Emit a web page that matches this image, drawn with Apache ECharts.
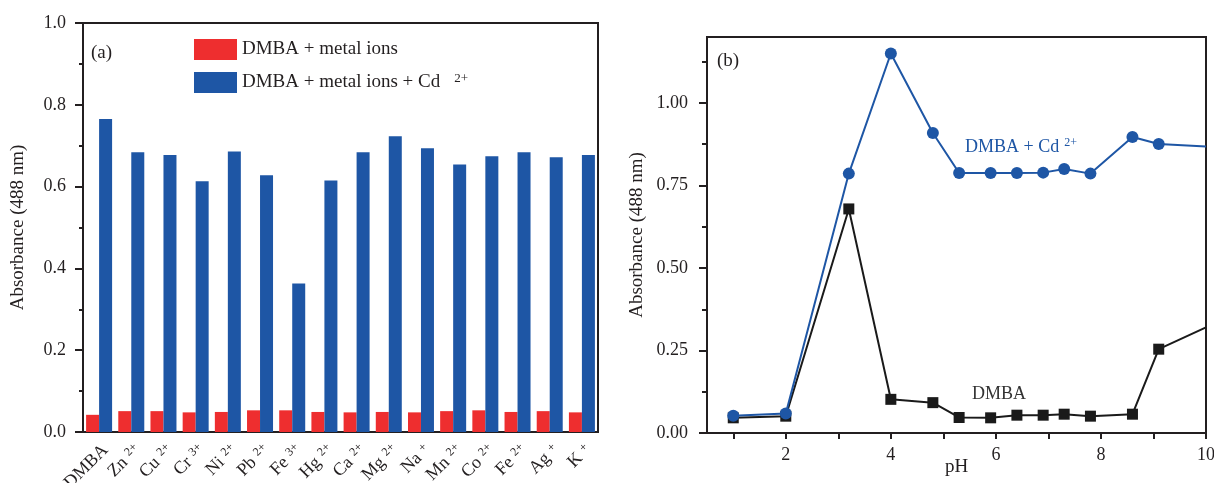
<!DOCTYPE html>
<html>
<head>
<meta charset="utf-8">
<title>DMBA absorbance</title>
<script src="https://cdn.jsdelivr.net/npm/echarts@6/dist/echarts.min.js"></script>
<style>
  html, body { margin: 0; padding: 0; background: #ffffff; }
  #chart { width: 1214px; height: 483px; }
</style>
</head>
<body>
<div id="chart"></div>
<script>
// (a) interference of metal ions
const ionCategories = ['DMBA', 'Zn2+', 'Cu2+', 'Cr3+', 'Ni2+', 'Pb2+', 'Fe3+', 'Hg2+', 'Ca2+', 'Mg2+', 'Na+', 'Mn2+', 'Co2+', 'Fe2+', 'Ag+', 'K+'];
const dmbaWithIons = [0.042, 0.051, 0.051, 0.048, 0.049, 0.053, 0.053, 0.049, 0.048, 0.049, 0.048, 0.051, 0.053, 0.049, 0.051, 0.048];
const dmbaWithIonsCd = [0.765, 0.684, 0.677, 0.613, 0.686, 0.628, 0.363, 0.615, 0.684, 0.723, 0.694, 0.654, 0.674, 0.684, 0.672, 0.677];
const barSeriesNames = ['DMBA + metal ions', 'DMBA + metal ions + Cd2+'];

// (b) effect of pH
const pHValues = [1.0, 2.0, 3.2, 4.0, 4.8, 5.3, 5.9, 6.4, 6.9, 7.3, 7.8, 8.6, 9.1, 10.0];
const absDmbaCd = [0.052, 0.059, 0.786, 1.150, 0.909, 0.788, 0.788, 0.788, 0.789, 0.800, 0.786, 0.897, 0.876, 0.868];
const absDmba = [0.046, 0.051, 0.679, 0.102, 0.092, 0.047, 0.046, 0.054, 0.054, 0.057, 0.051, 0.057, 0.254, 0.320];

// tick positions and labels of panel (b)
const pHTicks = [1, 2, 3, 4, 5, 6, 7, 8, 9, 10];
const pHTickLabels = [2, 4, 6, 8, 10];
const absMajorTicks = [0, 0.25, 0.5, 0.75, 1.0];
const absMinorTicks = [0.125, 0.375, 0.625, 0.875, 1.125];

const FONT = "'Liberation Serif', 'Times New Roman', serif";
const INK = '#231f20';
const RED = '#ee2e2f';
const BLUE = '#1e56a5';

const axisLineStyle = { lineStyle: { color: INK, width: 2 } };

// "Zn2+" -> Zn with a raised charge
function ionLabel(v) {
  const m = v.match(/^([A-Za-z]+?)(\d?\+)?$/);
  return m && m[2] ? '{b|' + m[1] + '}{s|' + m[2] + '}' : '{b|' + v + '}';
}

const chart = echarts.init(document.getElementById('chart'), null, { renderer: 'canvas' });

chart.setOption({
  backgroundColor: '#ffffff',
  animation: false,
  textStyle: { fontFamily: FONT, color: INK },
  grid: [
    { left: 83, top: 23, width: 515, height: 409, outerBoundsMode: 'none', containLabel: false,
      show: true, borderColor: INK, borderWidth: 2, backgroundColor: 'transparent' },
    { left: 707, top: 37, width: 499, height: 396, outerBoundsMode: 'none', containLabel: false,
      show: true, borderColor: INK, borderWidth: 2, backgroundColor: 'transparent' }
  ],
  legend: {
    data: barSeriesNames,
    orient: 'vertical',
    left: 194,
    top: 39,
    padding: 0,
    itemWidth: 43,
    itemHeight: 21,
    itemGap: 12,
    icon: 'rect',
    selectedMode: false,
    formatter: function (name) {
      return name.endsWith('Cd2+') ? '{t|' + name.slice(0, -2) + '}{s|2+}' : '{t|' + name + '}';
    },
    textStyle: {
      fontFamily: FONT, color: INK, fontSize: 19,
      rich: {
        t: { fontFamily: FONT, fontSize: 19, color: INK, lineHeight: 21 },
        s: { fontFamily: FONT, fontSize: 13, color: INK, lineHeight: 2, verticalAlign: 'top', padding: [0, 0, 0, 14] }
      }
    }
  },
  xAxis: [
    {
      type: 'category', gridIndex: 0, position: 'bottom', data: ionCategories,
      axisLine: axisLineStyle,
      axisTick: { alignWithLabel: true, length: 7, lineStyle: { color: INK, width: 2 } },
      axisLabel: {
        interval: 0, rotate: 45, margin: 9, verticalAlign: 'top', color: INK, fontFamily: FONT, fontSize: 18,
        formatter: ionLabel,
        rich: {
          b: { fontFamily: FONT, fontSize: 18, color: INK, lineHeight: 18 },
          s: { fontFamily: FONT, fontSize: 12, color: INK, lineHeight: 2, verticalAlign: 'top', padding: [0, 0, 0, 5] }
        }
      },
      splitLine: { show: false }
    },
    {
      type: 'category', gridIndex: 0, position: 'bottom', data: ionCategories,
      axisLine: { show: false },
      axisTick: { alignWithLabel: false, length: 4, lineStyle: { color: INK, width: 2 } },
      axisLabel: { show: false },
      splitLine: { show: false }
    },
    {
      type: 'value', gridIndex: 1, position: 'bottom', min: 0.5, max: 10,
      name: 'pH', nameLocation: 'middle', nameGap: 25, nameMoveOverlap: false,
      nameTextStyle: { fontFamily: FONT, fontSize: 19, color: INK },
      axisLine: { onZero: false, lineStyle: { color: INK, width: 2 } },
      axisTick: { customValues: pHTicks, length: 6, lineStyle: { color: INK, width: 2 } },
      axisLabel: { customValues: pHTickLabels, margin: 13, color: INK, fontFamily: FONT, fontSize: 18 },
      splitLine: { show: false }
    }
  ],
  yAxis: [
    {
      type: 'value', gridIndex: 0, min: 0, max: 1, interval: 0.2,
      name: 'Absorbance (488 nm)', nameLocation: 'middle', nameGap: 55, nameMoveOverlap: false,
      nameTextStyle: { fontFamily: FONT, fontSize: 19, color: INK },
      axisLine: { show: true, lineStyle: { color: INK, width: 2 } },
      axisTick: { show: true, length: 8, lineStyle: { color: INK, width: 2 } },
      minorTick: { show: true, splitNumber: 2, length: 4, lineStyle: { color: INK, width: 2 } },
      axisLabel: { margin: 17, color: INK, fontFamily: FONT, fontSize: 18, formatter: v => v.toFixed(1) },
      splitLine: { show: false }
    },
    {
      type: 'value', gridIndex: 1, min: 0, max: 1.2,
      name: 'Absorbance (488 nm)', nameLocation: 'middle', nameGap: 60, nameMoveOverlap: false,
      nameTextStyle: { fontFamily: FONT, fontSize: 19, color: INK },
      axisLine: { show: true, onZero: false, lineStyle: { color: INK, width: 2 } },
      axisTick: { show: true, customValues: absMajorTicks, length: 8, lineStyle: { color: INK, width: 2 } },
      axisLabel: { customValues: absMajorTicks, margin: 19, color: INK, fontFamily: FONT, fontSize: 18, formatter: v => v.toFixed(2) },
      splitLine: { show: false }
    },
    {
      type: 'value', gridIndex: 1, min: 0, max: 1.2, position: 'left',
      axisLine: { show: false },
      axisTick: { show: true, customValues: absMinorTicks, length: 5, lineStyle: { color: INK, width: 2 } },
      axisLabel: { show: false },
      splitLine: { show: false }
    }
  ],
  series: [
    {
      name: barSeriesNames[0], type: 'bar', xAxisIndex: 0, yAxisIndex: 0,
      data: dmbaWithIons, barWidth: 13, barGap: '0%',
      itemStyle: { color: RED }
    },
    {
      name: barSeriesNames[1], type: 'bar', xAxisIndex: 0, yAxisIndex: 0,
      data: dmbaWithIonsCd, barWidth: 13, barGap: '0%',
      itemStyle: { color: BLUE }
    },
    {
      name: 'DMBA', type: 'line', xAxisIndex: 2, yAxisIndex: 1,
      data: pHValues.map((p, i) => i === pHValues.length - 1 ? { value: [p, absDmba[i]], symbol: 'none' } : [p, absDmba[i]]),
      symbol: 'rect', symbolSize: 11, showAllSymbol: true,
      lineStyle: { color: '#1a1a1a', width: 2 },
      itemStyle: { color: '#1a1a1a' },
      z: 2
    },
    {
      name: 'DMBA + Cd2+', type: 'line', xAxisIndex: 2, yAxisIndex: 1,
      data: pHValues.map((p, i) => i === pHValues.length - 1 ? { value: [p, absDmbaCd[i]], symbol: 'none' } : [p, absDmbaCd[i]]),
      symbol: 'circle', symbolSize: 12, showAllSymbol: true,
      lineStyle: { color: BLUE, width: 2 },
      itemStyle: { color: BLUE },
      z: 3
    }
  ],
  graphic: [
    { type: 'text', x: 91, y: 53, style: { text: '(a)', fontFamily: FONT, fontSize: 19, fill: INK, verticalAlign: 'middle' } },
    { type: 'text', x: 717, y: 61, style: { text: '(b)', fontFamily: FONT, fontSize: 19, fill: INK, verticalAlign: 'middle' } },
    {
      type: 'text', x: 965, y: 147,
      style: {
        text: '{t|DMBA + Cd}{s|2+}', verticalAlign: 'middle',
        rich: {
          t: { fontFamily: FONT, fontSize: 18, fill: BLUE, lineHeight: 20 },
          s: { fontFamily: FONT, fontSize: 12, fill: BLUE, lineHeight: 4, verticalAlign: 'top', padding: [0, 0, 0, 5] }
        }
      }
    },
    { type: 'text', x: 972, y: 394, style: { text: 'DMBA', fontFamily: FONT, fontSize: 18, fill: '#333333', verticalAlign: 'middle' } }
  ]
});
</script>
</body>
</html>
